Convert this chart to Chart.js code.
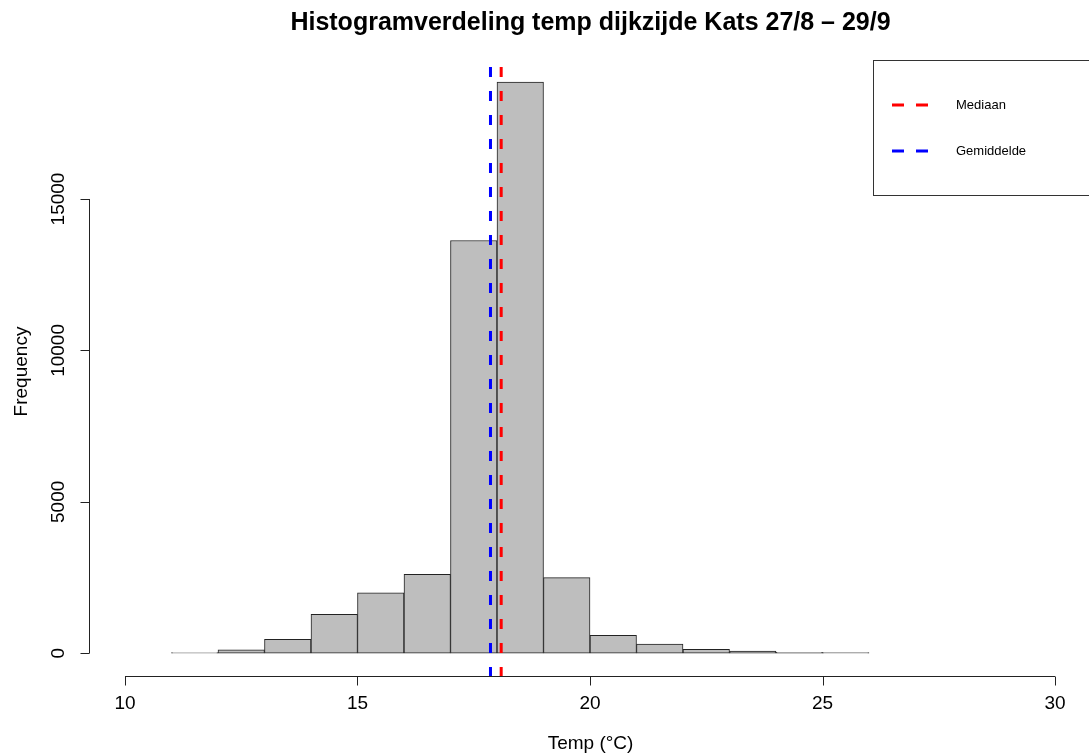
<!DOCTYPE html>
<html>
<head>
<meta charset="utf-8">
<title>Histogramverdeling temp dijkzijde Kats</title>
<script src="https://cdn.jsdelivr.net/npm/chart.js@4.4.1/dist/chart.umd.min.js"></script>
<style>
    html, body { margin: 0; padding: 0; background: #fff; }
    #wrap { width: 1089px; height: 753px; }
</style>
</head>
<body>
<div id="wrap"><canvas id="histChart" width="1089" height="753"></canvas></div>
<script>
// histogram bins (1 degree wide) and their counts
const breaks = [11, 12, 13, 14, 15, 16, 17, 18, 19, 20, 21, 22, 23, 24, 25, 26];
const counts = [25, 110, 460, 1290, 2000, 2610, 13630, 18860, 2500, 595, 300, 132, 76, 33, 20];
const medianTemp = 18.09;
const meanTemp = 17.86;
const xTicks = [10, 15, 20, 25, 30];
const yTicks = [0, 5000, 10000, 15000];

const FONT = '"Liberation Sans", Arial, Helvetica, sans-serif';

const bins = counts.map((c, i) => ({ x: (breaks[i] + breaks[i + 1]) / 2, y: c }));

// plot region as in R: y extended below 0 and above the top bar
const yMin = -750;
const yMax = 19358;

function vline(x) {
    return [{ x: x, y: yMax }, { x: x, y: yMin }];
}

const rAxes = {
    id: 'rAxes',
    beforeDatasetsDraw(chart) {
        const ctx = chart.ctx;
        const xs = chart.scales.x;
        const ys = chart.scales.y;
        const area = chart.chartArea;
        ctx.save();
        ctx.strokeStyle = '#222';
        ctx.lineWidth = 1;
        ctx.fillStyle = '#000';

        // x axis
        const ax = Math.round(area.bottom) + 0.5;
        ctx.beginPath();
        ctx.moveTo(xs.getPixelForValue(xTicks[0]), ax);
        ctx.lineTo(xs.getPixelForValue(xTicks[xTicks.length - 1]), ax);
        xTicks.forEach((t) => {
            const px = Math.round(xs.getPixelForValue(t)) + 0.5;
            ctx.moveTo(px, ax);
            ctx.lineTo(px, ax + 9);
        });
        ctx.stroke();
        ctx.font = '19px ' + FONT;
        ctx.textAlign = 'center';
        ctx.textBaseline = 'middle';
        xTicks.forEach((t) => ctx.fillText(String(t), xs.getPixelForValue(t), 704));

        // y axis
        const ay = Math.round(area.left) + 0.5;
        ctx.beginPath();
        ctx.moveTo(ay, ys.getPixelForValue(yTicks[0]));
        ctx.lineTo(ay, ys.getPixelForValue(yTicks[yTicks.length - 1]));
        yTicks.forEach((t) => {
            const py = Math.round(ys.getPixelForValue(t)) + 0.5;
            ctx.moveTo(ay, py);
            ctx.lineTo(ay - 9, py);
        });
        ctx.stroke();
        yTicks.forEach((t) => {
            ctx.save();
            ctx.translate(59, ys.getPixelForValue(t));
            ctx.rotate(-Math.PI / 2);
            ctx.fillText(String(t), 0, 0);
            ctx.restore();
        });

        // axis titles
        ctx.fillText('Temp (°C)', (area.left + 1092) / 2, 744);
        ctx.save();
        ctx.translate(22, (area.top + area.bottom) / 2);
        ctx.rotate(-Math.PI / 2);
        ctx.fillText('Frequency', 0, 0);
        ctx.restore();

        // main title
        ctx.font = 'bold 25px ' + FONT;
        ctx.fillText('Histogramverdeling temp dijkzijde Kats 27/8 \u2013 29/9', (area.left + 1092) / 2, 23);
        ctx.restore();
    },
    afterDraw(chart) {
        // legend box, top right, runs off the canvas like the original
        const ctx = chart.ctx;
        const lines = chart.data.datasets.filter((d) => d.type === 'line');
        ctx.save();
        ctx.strokeStyle = '#333';
        ctx.lineWidth = 1;
        ctx.strokeRect(873.5, 60.5, 260, 135);
        ctx.font = '13px ' + FONT;
        ctx.textAlign = 'left';
        ctx.textBaseline = 'middle';
        lines.forEach((d, i) => {
            const y = 105 + i * 46;
            ctx.strokeStyle = d.borderColor;
            ctx.lineWidth = 3;
            ctx.beginPath();
            ctx.moveTo(892, y);
            ctx.lineTo(904, y);
            ctx.moveTo(916, y);
            ctx.lineTo(928, y);
            ctx.stroke();
            ctx.fillStyle = '#000';
            ctx.fillText(d.label, 956, y);
        });
        ctx.restore();
    }
};

new Chart(document.getElementById('histChart'), {
    type: 'bar',
    data: {
        datasets: [
            {
                type: 'line',
                label: 'Mediaan',
                data: vline(medianTemp),
                borderColor: '#ff0000',
                borderWidth: 3,
                borderDash: [10, 14],
                pointRadius: 0,
                fill: false,
                order: 1,
            },
            {
                type: 'line',
                label: 'Gemiddelde',
                data: vline(meanTemp),
                borderColor: '#0000ff',
                borderWidth: 3,
                borderDash: [10, 14],
                pointRadius: 0,
                fill: false,
                order: 1,
            },
            {
                type: 'bar',
                label: 'Frequency',
                data: bins,
                backgroundColor: '#bebebe',
                borderColor: '#222',
                borderWidth: 1,
                borderSkipped: false,
                barPercentage: 1,
                categoryPercentage: 1,
                order: 2,
            },
        ],
    },
    options: {
        responsive: false,
        animation: false,
        devicePixelRatio: 1,
        layout: { padding: { left: 89, right: 0, top: 67, bottom: 77 } },
        plugins: {
            legend: { display: false },
            tooltip: { enabled: false },
            title: { display: false },
        },
        scales: {
            x: { type: 'linear', display: false, offset: false, min: 9.226, max: 30.731 },
            y: { type: 'linear', display: false, min: yMin, max: yMax },
        },
    },
    plugins: [rAxes],
});
</script>
</body>
</html>
